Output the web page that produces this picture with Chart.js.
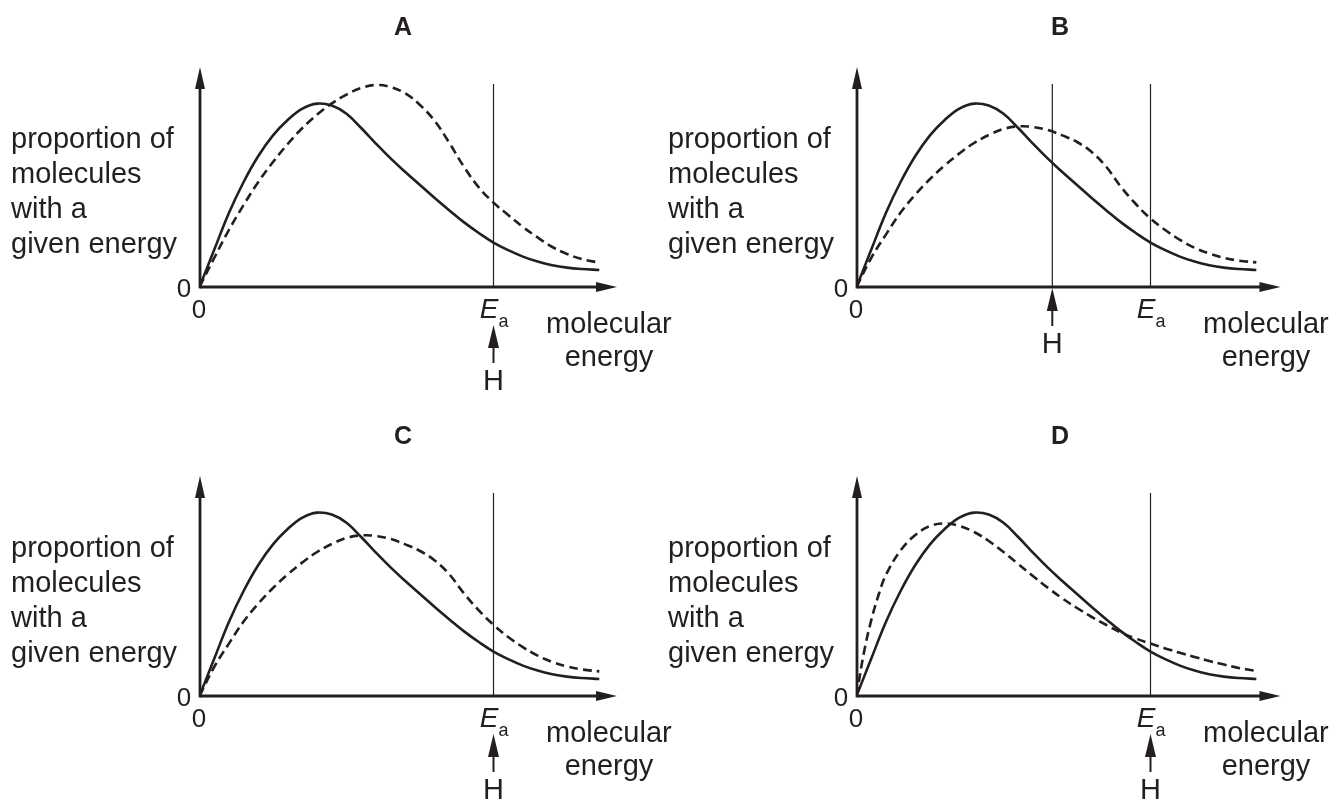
<!DOCTYPE html>
<html><head><meta charset="utf-8">
<script src="https://cdn.jsdelivr.net/npm/chart.js@4/dist/chart.umd.min.js"></script>
<style>
html,body{margin:0;padding:0;background:#fff;}
body{width:1332px;height:803px;position:relative;overflow:hidden;}
canvas{position:absolute;}
</style></head><body>
<canvas id="cA"></canvas><canvas id="cB"></canvas><canvas id="cC"></canvas><canvas id="cD"></canvas>
<script>
// ---- data (x: molecular energy, Ea = 10; y: proportion, arbitrary units) ----
const panelLetters = ['A', 'B', 'C', 'D'];
const solidX = [0, 0.5, 1, 1.5, 2, 2.5, 3, 3.5, 4, 4.5, 5, 5.5, 6, 6.5, 7, 7.5, 8, 8.5, 9, 9.5, 10, 10.5, 11, 11.5, 12, 12.5, 13, 13.6];
const solidY = [0, 1.86, 3.7, 5.25, 6.55, 7.58, 8.35, 8.92, 9.17, 9.07, 8.66, 7.95, 7.17, 6.43, 5.75, 5.1, 4.45, 3.83, 3.23, 2.7, 2.22, 1.84, 1.52, 1.27, 1.09, 0.97, 0.9, 0.85];
const dashAX = [0, 0.5, 1, 1.5, 2, 2.5, 3, 3.5, 4, 4.5, 5, 5.5, 6, 6.5, 7, 7.5, 8, 8.5, 9, 9.5, 10, 10.5, 11, 11.5, 12, 12.5, 13, 13.58];
const dashAY = [0, 1.45, 2.85, 4.1, 5.25, 6.25, 7.15, 7.95, 8.62, 9.18, 9.62, 9.95, 10.1, 10.0, 9.68, 9.1, 8.3, 7.2, 6.0, 4.98, 4.22, 3.6, 3.0, 2.48, 2.0, 1.65, 1.4, 1.22];
const dashBX = [0, 0.5, 1, 1.5, 2, 2.5, 3, 3.5, 4, 4.5, 5, 5.5, 6, 6.5, 7, 7.5, 8, 8.5, 9, 9.5, 10, 10.5, 11, 11.5, 12, 12.5, 13, 13.6];
const dashBY = [0, 1.45, 2.62, 3.72, 4.62, 5.4, 6.08, 6.68, 7.2, 7.6, 7.9, 8.03, 8.0, 7.85, 7.58, 7.25, 6.75, 6.0, 5.0, 4.15, 3.42, 2.85, 2.36, 1.96, 1.67, 1.46, 1.32, 1.23];
const dashCX = [0, 0.5, 1, 1.5, 2, 2.5, 3, 3.5, 4, 4.5, 5, 5.5, 6, 6.5, 7, 7.5, 8, 8.5, 9, 9.5, 10, 10.5, 11, 11.5, 12, 12.5, 13, 13.6];
const dashCY = [0, 1.45, 2.62, 3.72, 4.62, 5.4, 6.08, 6.68, 7.2, 7.6, 7.9, 8.03, 8.0, 7.85, 7.58, 7.25, 6.78, 6.08, 5.12, 4.28, 3.56, 2.95, 2.44, 2.02, 1.7, 1.48, 1.33, 1.23];
const dashDX = [0, 0.25, 0.5, 0.75, 1, 1.5, 2, 2.5, 3, 3.5, 4, 4.5, 5, 5.5, 6, 6.5, 7, 7.5, 8, 8.5, 9, 9.5, 10, 10.5, 11, 11.5, 12, 12.5, 13, 13.6];
const dashDY = [0, 2.15, 3.78, 5.05, 6.05, 7.28, 8.05, 8.5, 8.63, 8.5, 8.2, 7.75, 7.2, 6.6, 6.0, 5.42, 4.88, 4.4, 3.95, 3.55, 3.17, 2.87, 2.62, 2.38, 2.16, 1.95, 1.75, 1.57, 1.4, 1.25];
const eaValue = 10;
const hValues = [10, 6.66, 10, 10];
const markerTop = 10.15;
const yMax = 11;
const yAxisText = ['proportion of', 'molecules', 'with a', 'given energy'];
const xAxisText = ['molecular', 'energy'];
const zeroLabel = '0';

// ---- layout ----
const PX_PER_X = 29.4, PX_PER_Y = 20;
const INK = '#231f20';
const FONT = "'Liberation Sans', Arial, sans-serif";
const layouts = [
  { id: 'cA', left: 0,   top: 0,   w: 690, h: 400, ox: 199.5, oy: 287, xmax: 14.2 },
  { id: 'cB', left: 640, top: 0,   w: 692, h: 400, ox: 856.5, oy: 287, xmax: 14.42 },
  { id: 'cC', left: 0,   top: 400, w: 690, h: 403, ox: 199.5, oy: 696, xmax: 14.2 },
  { id: 'cD', left: 640, top: 400, w: 692, h: 403, ox: 856.5, oy: 696, xmax: 14.42 }
];
const dashX = [dashAX, dashBX, dashCX, dashDX];
const dashY = [dashAY, dashBY, dashCY, dashDY];
const zip = (xs, ys) => xs.map((x, i) => ({ x: x, y: ys[i] }));

const decoPlugin = {
  id: 'deco',
  beforeDatasetsDraw(chart) {
    const ca = chart.chartArea, ctx = chart.ctx;
    const ox = Math.round(ca.left), oy = ca.bottom;
    ctx.save();
    ctx.strokeStyle = INK; ctx.fillStyle = INK; ctx.lineWidth = 2.8;
    // x axis
    ctx.beginPath(); ctx.moveTo(ox, oy); ctx.lineTo(ca.right - 15, oy); ctx.stroke();
    ctx.beginPath(); ctx.moveTo(ca.right, oy); ctx.lineTo(ca.right - 21, oy - 5); ctx.lineTo(ca.right - 21, oy + 5); ctx.closePath(); ctx.fill();
    // y axis
    ctx.beginPath(); ctx.moveTo(ox, oy + 1.4); ctx.lineTo(ox, ca.top + 15); ctx.stroke();
    ctx.beginPath(); ctx.moveTo(ox, ca.top); ctx.lineTo(ox - 5, ca.top + 22); ctx.lineTo(ox + 5, ca.top + 22); ctx.closePath(); ctx.fill();
    ctx.restore();
  },
  afterDraw(chart) {
    const o = chart.options.plugins.deco;
    const ca = chart.chartArea, ctx = chart.ctx;
    const xs = chart.scales.x;
    const ox = Math.round(ca.left), oy = ca.bottom;
    const eaPx = xs.getPixelForValue(eaValue);
    const hPx = xs.getPixelForValue(o.h);
    ctx.save();
    ctx.fillStyle = INK; ctx.strokeStyle = INK;
    ctx.textBaseline = 'alphabetic';
    // title
    ctx.font = 'bold 25px ' + FONT; ctx.textAlign = 'center';
    ctx.fillText(o.letter, ox + 203, oy - 252);
    // y label
    ctx.font = '29px ' + FONT; ctx.textAlign = 'left';
    const yb = [-139, -104, -69, -34];
    yAxisText.forEach((t, i) => ctx.fillText(t, ox - 189, oy + yb[i]));
    // zeros
    ctx.font = '26px ' + FONT; ctx.textAlign = 'center';
    ctx.fillText(zeroLabel, ox - 16, oy + 10);
    ctx.fillText(zeroLabel, ox - 1, oy + 31);
    // x label
    ctx.font = '29px ' + FONT; ctx.textAlign = 'left';
    ctx.fillText(xAxisText[0], ox + 346, oy + 46);
    ctx.textAlign = 'center';
    ctx.fillText(xAxisText[1], ox + 409, oy + 79);
    // Ea label
    ctx.font = 'italic 28px ' + FONT; ctx.textAlign = 'right';
    ctx.fillText('E', eaPx + 5, oy + 31);
    ctx.font = '18px ' + FONT; ctx.textAlign = 'left';
    ctx.fillText('a', eaPx + 5, oy + 40);
    // H arrow
    const below = o.h === eaValue;
    const tip = below ? oy + 38 : oy + 1;
    ctx.lineWidth = 2;
    ctx.beginPath(); ctx.moveTo(hPx, tip + 15); ctx.lineTo(hPx, tip + 38); ctx.stroke();
    ctx.beginPath(); ctx.moveTo(hPx, tip); ctx.lineTo(hPx - 5.5, tip + 23); ctx.lineTo(hPx + 5.5, tip + 23); ctx.closePath(); ctx.fill();
    ctx.font = '29px ' + FONT; ctx.textAlign = 'center';
    ctx.fillText('H', hPx, tip + 65);
    ctx.restore();
  }
};

layouts.forEach((L, i) => {
  const cv = document.getElementById(L.id);
  cv.width = L.w; cv.height = L.h;
  cv.style.left = L.left + 'px'; cv.style.top = L.top + 'px';
  cv.style.width = L.w + 'px'; cv.style.height = L.h + 'px';
  const padLeft = L.ox - L.left;
  const padTop = L.oy - L.top - yMax * PX_PER_Y;
  const padBottom = L.h - (L.oy - L.top);
  const padRight = L.w - padLeft - L.xmax * PX_PER_X;
  const curve = { borderColor: INK, borderWidth: 2.6, pointRadius: 0, tension: 0.4, fill: false };
  const datasets = [
    Object.assign({ data: zip(solidX, solidY) }, curve),
    Object.assign({ data: zip(dashX[i], dashY[i]), borderDash: [9, 5] }, curve),
    { data: [{ x: eaValue, y: 0 }, { x: eaValue, y: markerTop }], borderColor: INK, borderWidth: 1.2, pointRadius: 0, tension: 0 }
  ];
  if (hValues[i] !== eaValue) {
    datasets.push({ data: [{ x: hValues[i], y: 0 }, { x: hValues[i], y: markerTop }], borderColor: INK, borderWidth: 1.2, pointRadius: 0, tension: 0 });
  }
  new Chart(cv, {
    type: 'line',
    data: { datasets: datasets },
    options: {
      responsive: false, animation: false, devicePixelRatio: 1,
      layout: { padding: { left: padLeft, right: padRight, top: padTop, bottom: padBottom } },
      scales: {
        x: { type: 'linear', min: 0, max: L.xmax, display: false },
        y: { type: 'linear', min: 0, max: yMax, display: false }
      },
      plugins: {
        legend: { display: false }, tooltip: { enabled: false }, title: { display: false },
        deco: { letter: panelLetters[i], h: hValues[i] }
      },
      elements: { line: { borderCapStyle: 'butt' } }
    },
    plugins: [decoPlugin]
  });
});
</script>
</body></html>
